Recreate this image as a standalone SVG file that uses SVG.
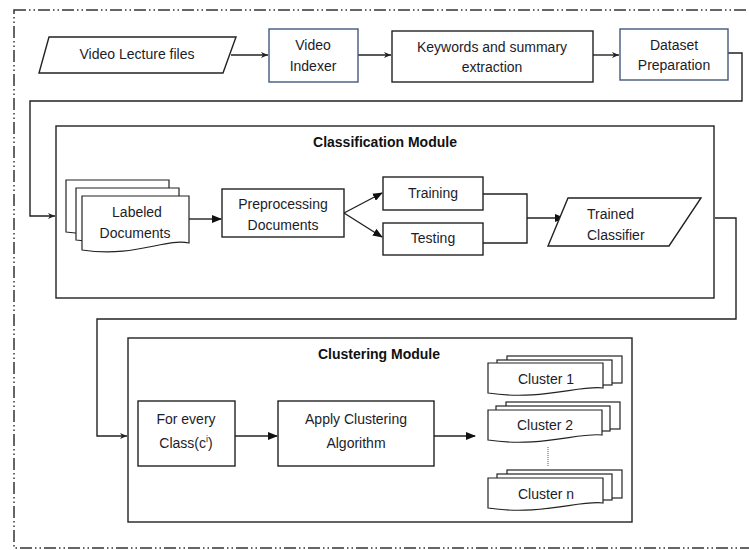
<svg xmlns="http://www.w3.org/2000/svg" width="749" height="550" viewBox="0 0 749 550">
<style>
.t{font-family:"Liberation Sans",Arial,sans-serif;font-size:14px;fill:#1c1c2a;text-anchor:middle}
.b{font-weight:bold;fill:#111}
.box{fill:#fff;stroke:#222;stroke-width:1.4}
.blue{fill:#fff;stroke:#45587a;stroke-width:1.4}
.mod{fill:none;stroke:#222;stroke-width:1.4}
.ln{fill:none;stroke:#222;stroke-width:1.4}
.doc{fill:#fff;stroke:#222;stroke-width:1.2}
</style>
<defs>
<marker id="ah" markerWidth="10" markerHeight="8" refX="9" refY="4" orient="auto" markerUnits="userSpaceOnUse">
<path d="M0,0 L10,4 L0,8 Z" fill="#111"/>
</marker>
<marker id="as" markerWidth="7" markerHeight="6" refX="7" refY="3" orient="auto" markerUnits="userSpaceOnUse">
<path d="M0,0 L7,3 L0,6 L2,3 Z" fill="#222"/>
</marker>
</defs>
<rect id="frame" x="14" y="10" width="760" height="538" fill="none" stroke="#333" stroke-width="1.5" stroke-dasharray="12 3 1.5 3 1.5 3"/>
<g id="classification-module"><rect class="mod" x="56" y="126" width="658" height="172"/><text class="t b" x="385" y="147">Classification  Module</text></g>
<g id="clustering-module"><rect class="mod" x="128" y="338" width="504" height="184"/><text class="t b" x="379" y="359">Clustering Module</text></g>
<g id="connectors">
<line class="ln" x1="231" y1="55" x2="268" y2="55" marker-end="url(#as)"/>
<line class="ln" x1="358" y1="55" x2="391" y2="55" marker-end="url(#as)"/>
<line class="ln" x1="593" y1="55" x2="619" y2="55" marker-end="url(#as)"/>
<polyline class="ln" points="728,53 742,53 742,101 30,101 30,216 55,216" marker-end="url(#as)"/>
<line class="ln" x1="189" y1="219" x2="221" y2="219" marker-end="url(#ah)"/>
<line class="ln" x1="344" y1="213" x2="382" y2="193" marker-end="url(#ah)"/>
<line class="ln" x1="344" y1="213" x2="382" y2="237" marker-end="url(#ah)"/>
<polyline class="ln" points="483,194 527,194 527,243 483,243"/>
<line class="ln" x1="527" y1="218" x2="564" y2="218" marker-end="url(#ah)"/>
<polyline class="ln" points="715,218 736,218 736,319 97,319 97,436 127,436" marker-end="url(#as)"/>
<line class="ln" x1="235" y1="436" x2="277" y2="436" marker-end="url(#ah)"/>
<line class="ln" x1="434" y1="436" x2="475" y2="436" marker-end="url(#ah)"/>
<line x1="548" y1="447" x2="548" y2="467" stroke="#555" stroke-width="1" stroke-dasharray="1 1"/>
</g>
<g id="video-lecture-files"><polygon class="box" points="49,37 236,37 223,73 39,73"/><text class="t" x="137" y="59">Video Lecture files</text></g>
<g id="video-indexer"><rect class="blue" x="269" y="29" width="89" height="53"/><text class="t" x="313" y="50">Video</text><text class="t" x="313" y="71">Indexer</text></g>
<g id="keywords"><rect class="box" x="392" y="31" width="201" height="51"/><text class="t" x="492" y="52">Keywords and summary</text><text class="t" x="492" y="72">extraction</text></g>
<g id="dataset-preparation"><rect class="blue" x="620" y="29" width="108" height="51"/><text class="t" x="674" y="50">Dataset</text><text class="t" x="674" y="70">Preparation</text></g>
<g id="labeled-documents">
<path class="doc" d="M66,180 H169 V222 C150,218 120,240 66,232 Z"/>
<path class="doc" d="M76,188 H179 V230 C160,226 130,248 76,240 Z"/>
<path class="doc" d="M82,196 H189 V243 C165,238 135,258 82,250 Z"/>
<text class="t" x="137" y="217">Labeled</text><text class="t" x="135" y="238">Documents</text>
</g>
<g id="preprocessing"><rect class="box" x="222" y="189" width="122" height="48"/><text class="t" x="283" y="209">Preprocessing</text><text class="t" x="283" y="230">Documents</text></g>
<g id="training"><rect class="box" x="383" y="177" width="100" height="33"/><text class="t" x="433" y="198">Training</text></g>
<g id="testing"><rect class="box" x="383" y="223" width="100" height="32"/><text class="t" x="433" y="243">Testing</text></g>
<g id="trained-classifier"><polygon class="box" points="568,198 701,198 669,246 548,246"/><text class="t" x="587" y="219" text-anchor="start" style="text-anchor:start">Trained</text><text class="t" x="587" y="240" style="text-anchor:start">Classifier</text></g>
<g id="for-every-class"><rect class="box" x="138" y="401" width="97" height="65"/><text class="t" x="186" y="424">For every</text><text class="t" x="186" y="448">Class(c<tspan font-size="9" dy="-6">i</tspan><tspan dy="6">)</tspan></text></g>
<g id="apply-clustering"><rect class="box" x="278" y="401" width="156" height="65"/><text class="t" x="356" y="424">Apply Clustering</text><text class="t" x="356" y="448">Algorithm</text></g>
<g id="cluster-1">
<rect class="doc" x="507" y="356" width="115" height="27"/>
<rect class="doc" x="497" y="360" width="115" height="25"/>
<path class="doc" d="M488,363 H603 V388 C580,385 540,401 488,393 Z"/>
<text class="t" x="546" y="384">Cluster 1</text>
</g>
<g id="cluster-2">
<rect class="doc" x="506" y="402" width="114" height="27"/>
<rect class="doc" x="496" y="406" width="114" height="25"/>
<path class="doc" d="M488,410 H602 V435 C580,432 540,448 488,440 Z"/>
<text class="t" x="545" y="430">Cluster 2</text>
</g>
<g id="cluster-n">
<rect class="doc" x="507" y="470" width="115" height="28"/>
<rect class="doc" x="497" y="474" width="115" height="26"/>
<path class="doc" d="M488,478 H603 V503 C580,500 540,516 488,508 Z"/>
<text class="t" x="546" y="499">Cluster n</text>
</g>
</svg>
